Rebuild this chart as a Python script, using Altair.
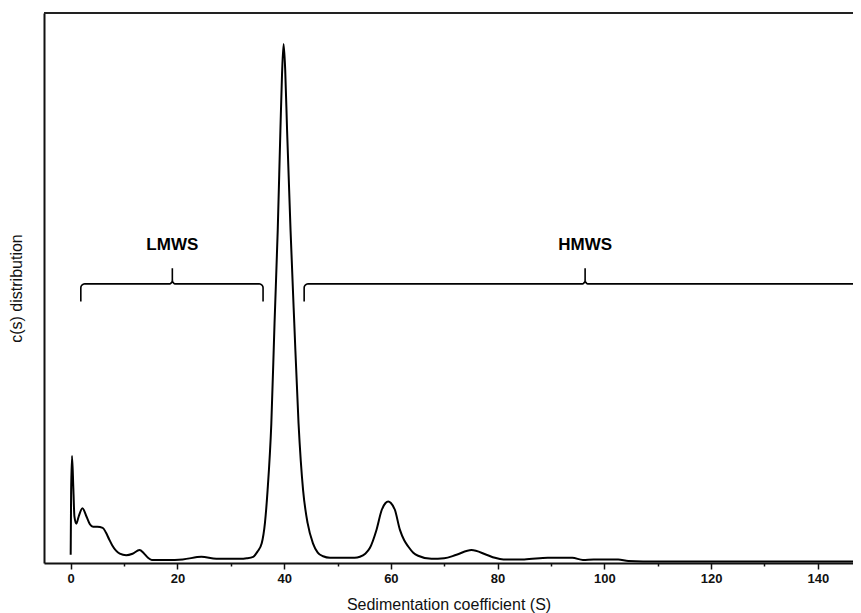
import math
import altair as alt
import pandas as pd

# ---- data ----
s_vals = [0.0, 0.08, 0.25, 0.5, 0.7, 1.05, 1.5, 2.2, 3.0, 3.6, 4.2, 5.0, 6.0, 6.6, 7.2, 7.8,
          8.5, 9.2, 10.4, 11.6, 12.9, 13.7, 14.5, 15.2, 18.0, 21.0, 24.5, 27.3, 30.0, 31.7,
          33.0, 34.2, 35.0, 35.8, 36.4, 36.9, 37.6, 38.2, 38.8, 39.3, 39.6, 39.9, 40.2, 40.55,
          41.2, 41.9, 42.7, 43.55, 44.4, 45.4, 46.3, 47.3, 48.6, 51.0, 53.2, 54.2, 55.2, 56.06,
          57.3, 58.3, 59.0, 59.5, 60.0, 60.75, 61.7, 62.5, 63.25, 64.2, 65.1, 67.6, 70.0, 72.3,
          75.1, 77.9, 79.5, 81.1, 85.0, 89.4, 92.0, 94.0, 96.0, 98.0, 102.6, 104.5, 110.0, 146.6]
c_vals = [0.012, 0.13, 0.203, 0.14, 0.086, 0.072, 0.086, 0.102, 0.085, 0.071, 0.066, 0.066, 0.064,
          0.055, 0.042, 0.030, 0.020, 0.014, 0.011, 0.014, 0.021, 0.015, 0.006, 0.002, 0.002,
          0.003, 0.008, 0.004, 0.004, 0.004, 0.005, 0.008, 0.018, 0.034, 0.073, 0.137, 0.266,
          0.46, 0.64, 0.833, 0.94, 1.0, 0.95, 0.833, 0.64, 0.46, 0.266, 0.137, 0.073, 0.034,
          0.016, 0.009, 0.006, 0.006, 0.006, 0.008, 0.014, 0.025, 0.06, 0.099, 0.112, 0.115,
          0.112, 0.099, 0.06, 0.04, 0.028, 0.016, 0.010, 0.004, 0.005, 0.012, 0.021, 0.012,
          0.006, 0.003, 0.003, 0.006, 0.006, 0.006, 0.002, 0.003, 0.003, 0.0, -0.001, -0.001]

x_ticks = [0, 10, 20, 30, 40, 50, 60, 70, 80, 90, 100, 110, 120, 130, 140]
x_domain = [-5, 146.6]
y_domain = [-0.004, 1.06]

bracket_labels = ["LMWS", "HMWS"]
bracket_start = [1.9, 43.75]
bracket_end = [36.05, 170.0]
bracket_center = [19.05, 96.4]
bracket_levels = [0.502, 0.536, 0.566]   # hook bottom, bar, tip
label_level = 0.611

W, H = 809, 550

curve = pd.DataFrame({"s": s_vals, "c": c_vals})


def brace_points(x0, x1, xc, yb, ybar, ytip, rx=0.75, ry=0.0077, tx=0.5, ty=0.009, n=6):
    pts = [(x0, yb)]
    for k in range(n + 1):
        a = math.pi - (math.pi / 2) * k / n
        pts.append((x0 + rx + rx * math.cos(a), ybar - ry + ry * math.sin(a)))
    for k in range(n + 1):
        a = 1.5 * math.pi + (math.pi / 2) * k / n
        pts.append((xc - tx + tx * math.cos(a), ybar + ty + ty * math.sin(a)))
    pts.append((xc, ytip))
    for k in range(n + 1):
        a = math.pi + (math.pi / 2) * k / n
        pts.append((xc + tx + tx * math.cos(a), ybar + ty + ty * math.sin(a)))
    for k in range(n + 1):
        a = math.pi / 2 - (math.pi / 2) * k / n
        pts.append((x1 - rx + rx * math.cos(a), ybar - ry + ry * math.sin(a)))
    pts.append((x1, yb))
    return pts


rows = []
for lab, a, b, cx in zip(bracket_labels, bracket_start, bracket_end, bracket_center):
    for i, (px, py) in enumerate(brace_points(a, b, cx, *bracket_levels)):
        rows.append({"name": lab, "i": i, "s": px, "c": py})
braces = pd.DataFrame(rows)
labels = pd.DataFrame({"name": bracket_labels, "s": bracket_center, "c": [label_level] * 2})

xscale = alt.Scale(domain=x_domain, nice=False, zero=False)
yscale = alt.Scale(domain=y_domain, nice=False, zero=False)

xaxis = alt.Axis(
    values=x_ticks,
    labelExpr="datum.value % 20 === 0 ? datum.label : ''",
    tickSize={"condition": {"test": "datum.value % 20 === 0", "value": 6}, "value": 3},
    tickWidth=1.5, tickColor="#111", domainColor="#111", domainWidth=2,
    labelFont="Liberation Sans", labelFontSize=13, labelFontWeight="bold", labelColor="#111",
    labelPadding=3, grid=False,
    title="Sedimentation coefficient (S)", titleFont="Liberation Sans", titleFontSize=16,
    titleFontWeight="normal", titleColor="#111", titlePadding=11,
)
yaxis = alt.Axis(
    ticks=False, labels=False, grid=False, domainColor="#111", domainWidth=2,
    title="c(s) distribution", titleFont="Liberation Sans", titleFontSize=16,
    titleFontWeight="normal", titleColor="#111", titlePadding=20,
)

line = alt.Chart(curve).mark_line(color="black", strokeWidth=2, interpolate="monotone").encode(
    x=alt.X("s:Q", scale=xscale, axis=xaxis),
    y=alt.Y("c:Q", scale=yscale, axis=yaxis),
)

brace_layer = alt.Chart(braces).mark_line(color="black", strokeWidth=1.6, clip=True).encode(
    x=alt.X("s:Q", scale=xscale),
    y=alt.Y("c:Q", scale=yscale),
    detail="name:N",
    order="i:Q",
)

text_layer = alt.Chart(labels).mark_text(
    font="Liberation Sans", fontSize=17, fontWeight="bold", color="black", baseline="middle"
).encode(
    x=alt.X("s:Q", scale=xscale),
    y=alt.Y("c:Q", scale=yscale),
    text="name:N",
)

top_border = alt.Chart(curve).mark_rule(color="#222", strokeWidth=2).encode(
    x=alt.value(0), x2=alt.value(W), y=alt.value(0)
)

chart = alt.layer(line, brace_layer, text_layer, top_border).properties(
    width=W, height=H,
    autosize=alt.AutoSizeParams(type="none"),
    padding={"left": 36, "top": 5, "right": 0, "bottom": 50},
).configure_view(stroke=None)

chart.save("out.html", embed_options={"renderer": "svg", "actions": False})
